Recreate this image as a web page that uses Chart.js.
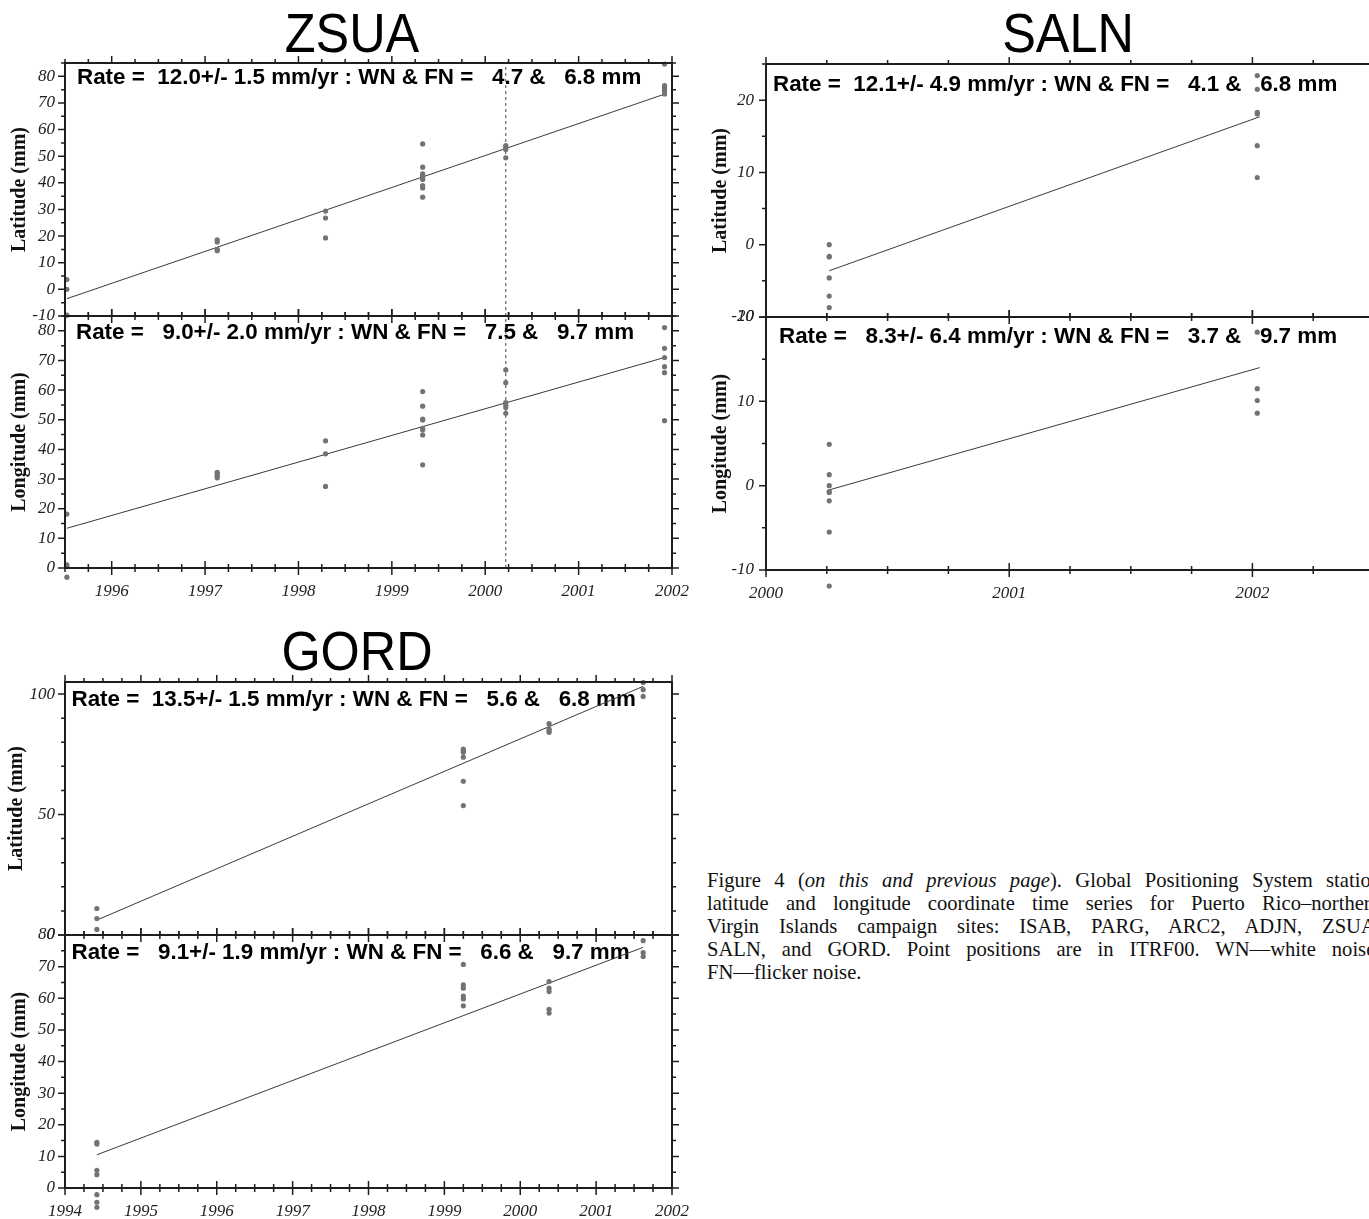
<!DOCTYPE html>
<html>
<head>
<meta charset="utf-8">
<script src="https://cdn.jsdelivr.net/npm/chart.js@4.4.1/dist/chart.umd.min.js"></script>
<style>
  html, body { margin: 0; padding: 0; background: #fff; width: 1369px; height: 1219px; overflow: hidden; }
  canvas { position: absolute; }
  .ttl { position: absolute; font-family: "Liberation Sans", Arial, sans-serif; font-size: 56px; line-height: 56px;
         color: #000; white-space: nowrap; transform: translateX(-50%) scaleX(0.9); }
  .cap { position: absolute; left: 707px; top: 869px; width: 674px; color: #111;
         font-family: "Liberation Serif", "Times New Roman", serif; font-size: 20.6px; line-height: 23px; }
  .cap div { white-space: nowrap; text-align: justify; text-align-last: justify; }
  .cap div.last { text-align-last: left; }
</style>
</head>
<body>
<div class="ttl" style="left:352px;top:5px">ZSUA</div>
<div class="ttl" style="left:1068px;top:5px">SALN</div>
<div class="ttl" style="left:357px;top:623px">GORD</div>
<div class="cap">
  <div>Figure 4 (<i>on this and previous page</i>). Global Positioning System station</div>
  <div>latitude and longitude coordinate time series for Puerto Rico–northern</div>
  <div>Virgin Islands campaign sites: ISAB, PARG, ARC2, ADJN, ZSUA,</div>
  <div>SALN, and GORD. Point positions are in ITRF00. WN—white noise;</div>
  <div class="last">FN—flicker noise.</div>
</div>
<script>
// ZSUA
const zsuaEpochs = [1995.52, 1997.13, 1998.29, 1999.33, 2000.22, 2001.92];
const zsuaLat = [[3.7, 0.0, -9.7], [18.6, 17.8, 15.0, 14.5], [29.4, 26.8, 19.3],
  [54.6, 45.9, 43.4, 42.8, 42.1, 41.3, 39.0, 38.1, 34.6], [54.0, 53.4, 52.5, 49.4], [84.6, 76.5, 75.6, 74.6, 73.4]];
const zsuaLon = [[18.2, 1.1, 0.5, -3.1], [32.3, 31.7, 31.0, 30.4], [42.9, 38.5, 27.5],
  [59.5, 54.6, 50.2, 49.9, 47.1, 46.6, 44.9, 34.8], [66.8, 62.5, 55.8, 55.0, 54.1, 52.2], [81.1, 74.1, 71.0, 67.9, 65.9, 49.7]];
const zsuaFitSpan = [1995.52, 2001.92];
const zsuaLatFit = [-3.5, 73.3];
const zsuaLonFit = [13.4, 71.0];
const zsuaMark = 2000.22;
const zsuaYears = [1996, 1997, 1998, 1999, 2000, 2001, 2002];
const zsuaLatTicks = [-10, 0, 10, 20, 30, 40, 50, 60, 70, 80];
const zsuaLonTicks = [0, 10, 20, 30, 40, 50, 60, 70, 80];

// SALN
const salnEpochs = [2000.26, 2002.02];
const salnLat = [[0.0, -1.6, -1.7, -4.6, -7.1, -8.7], [23.4, 21.5, 18.3, 18.1, 13.7, 9.3]];
const salnLon = [[4.9, 1.3, 0.0, -0.7, -0.8, -1.8, -5.5, -11.9], [18.2, 11.5, 10.1, 8.6]];
const salnFitSpan = [2000.26, 2002.03];
const salnLatFit = [-3.6, 17.7];
const salnLonFit = [-0.5, 14.0];
const salnYears = [2000, 2001, 2002];
const salnLatTicks = [-10, 0, 10, 20];
const salnLonTicks = [-10, 0, 10, 20];

// GORD
const gordEpochs = [1994.42, 1999.25, 2000.38, 2001.62];
const gordLat = [[11.0, 6.8, 2.3], [77.2, 76.5, 75.8, 73.8, 63.8, 53.7], [87.7, 85.5, 84.8, 84.1], [104.8, 101.8, 99.0]];
const gordLon = [[14.4, 13.9, 5.6, 4.2, -2.1, -4.5, -6.1], [70.7, 64.2, 63.2, 60.7, 59.8, 57.6],
  [65.3, 63.2, 62.1, 56.5, 55.3], [78.2, 74.4, 73.2]];
const gordFitSpan = [1994.42, 2001.62];
const gordLatFit = [6.2, 103.2];
const gordLonFit = [10.5, 76.1];
const gordYears = [1994, 1995, 1996, 1997, 1998, 1999, 2000, 2001, 2002];
const gordLatTicks = [0, 50, 100];
const gordLonTicks = [0, 10, 20, 30, 40, 50, 60, 70, 80];

const AX_W = 65, PAD_T = 30, PAD_R = 40, PAD_B = 30, X_H = 45;
const serif = '"Liberation Serif", "Times New Roman", serif';

function toPoints(epochs, groups) {
  const out = [];
  groups.forEach((g, i) => g.forEach(v => out.push({ x: epochs[i], y: v })));
  return out;
}

function steps(min, max, step) {
  const out = [];
  for (let v = Math.ceil(min / step - 1e-9) * step; v <= max + 1e-9; v += step) out.push(+v.toFixed(6));
  return out;
}

// frame, GMT-like ticks and the rate line; points may sit outside the box, so the
// area is widened while the datasets draw
const framePlugin = {
  id: 'frame',
  beforeDatasetsDraw(chart, args, o) {
    const { ctx, chartArea: a } = chart;
    ctx.save();
    ctx.font = 'bold 22.4px "Liberation Sans", Arial, sans-serif';
    ctx.fillStyle = '#000';
    ctx.textBaseline = 'alphabetic';
    ctx.fillText(o.rate, a.left + o.dx, a.top + o.dy);
    ctx.restore();
    chart.$realArea = a;
    chart.chartArea = { left: a.left, right: a.right, top: a.top - 40, bottom: a.bottom + 40,
                        width: a.width, height: a.height + 80 };
  },
  afterDatasetsDraw(chart) {
    if (chart.$realArea) chart.chartArea = chart.$realArea;
  },
  afterDraw(chart, args, o) {
    const { ctx, chartArea: a, scales: { x, y } } = chart;
    const isMajor = (v, list) => list.some(t => Math.abs(t - v) < 1e-6);
    ctx.save();
    ctx.strokeStyle = '#1e1e1e';
    ctx.lineWidth = 2;
    ctx.strokeRect(a.left, a.top, a.right - a.left, a.bottom - a.top);
    ctx.lineWidth = 1.5;
    ctx.beginPath();
    steps(x.min, x.max, o.xMinor).forEach(v => {
      const px = x.getPixelForValue(v);
      const len = isMajor(v, o.xMajor) ? 7 : 4;
      ctx.moveTo(px, a.top); ctx.lineTo(px, a.top - len);
      ctx.moveTo(px, a.bottom - len); ctx.lineTo(px, a.bottom + len);
    });
    steps(y.min, y.max, o.yMinor).forEach(v => {
      const py = y.getPixelForValue(v);
      const len = isMajor(v, o.yMajor) ? 7 : 4;
      ctx.moveTo(a.left, py); ctx.lineTo(a.left - len, py);
      ctx.moveTo(a.right, py); ctx.lineTo(a.right + len, py);
    });
    ctx.stroke();
    ctx.restore();
  }
};

function makePanel(p) {
  const c = document.createElement('canvas');
  const w = AX_W + p.w + PAD_R;
  const h = PAD_T + p.h + (p.showX ? X_H : PAD_B);
  c.width = w; c.height = h;
  c.style.width = w + 'px'; c.style.height = h + 'px';
  c.style.left = (p.left - AX_W) + 'px';
  c.style.top = (p.top - PAD_T) + 'px';
  document.body.appendChild(c);

  const datasets = [
    { data: toPoints(p.epochs, p.values), pointRadius: 2.6, pointBackgroundColor: '#6f7575',
      pointBorderWidth: 0, showLine: false, clip: false },
    { type: 'line', data: [{ x: p.span[0], y: p.fit[0] }, { x: p.span[1], y: p.fit[1] }],
      borderColor: '#3a3a3a', borderWidth: 1, pointRadius: 0, fill: false }
  ];
  if (p.mark) {
    datasets.push({ type: 'line', data: [{ x: p.mark, y: p.yMin }, { x: p.mark, y: p.yMax }],
      borderColor: '#444', borderWidth: 1, borderDash: [3, 3], pointRadius: 0, fill: false });
  }

  new Chart(c, {
    type: 'scatter',
    data: { datasets },
    options: {
      responsive: false,
      animation: false,
      events: [],
      layout: { padding: { top: PAD_T, right: PAD_R, bottom: p.showX ? 0 : PAD_B, left: 0 } },
      plugins: {
        legend: { display: false },
        tooltip: { enabled: false },
        frame: { rate: p.rate, dx: p.dx, dy: p.dy, xMajor: p.years, xMinor: 0.25, yMajor: p.yTicks, yMinor: p.yMinor }
      },
      scales: {
        x: {
          type: 'linear', min: p.xMin, max: p.xMax, display: p.showX,
          afterBuildTicks: s => { s.ticks = p.years.map(v => ({ value: v })); },
          afterFit: s => { if (p.showX) s.height = X_H; },
          grid: { display: false, drawTicks: false }, border: { display: false },
          ticks: { font: { family: serif, style: 'italic', size: 17 }, color: '#222', padding: 13,
                   maxRotation: 0, autoSkip: false, callback: v => String(v) }
        },
        y: {
          type: 'linear', min: p.yMin, max: p.yMax,
          afterBuildTicks: s => { s.ticks = p.yTicks.map(v => ({ value: v })); },
          afterFit: s => { s.width = AX_W; },
          grid: { display: false, drawTicks: false }, border: { display: false },
          title: { display: true, text: p.yTitle, color: '#111',
                   font: { family: serif, weight: 'bold', size: 20 }, padding: { top: p.titlePad, bottom: 0 } },
          ticks: { font: { family: serif, style: 'italic', size: 17 }, color: '#222', padding: p.tickPad,
                   autoSkip: false, callback: v => String(v) }
        }
      }
    },
    plugins: [framePlugin]
  });
}

makePanel({ left: 65, top: 63, w: 607, h: 253, xMin: 1995.5, xMax: 2002, yMin: -10, yMax: 85, yMinor: 5,
  years: zsuaYears, yTicks: zsuaLatTicks, showX: false, yTitle: 'Latitude (mm)', titlePad: 8, tickPad: 10,
  epochs: zsuaEpochs, values: zsuaLat, span: zsuaFitSpan, fit: zsuaLatFit, mark: zsuaMark,
  rate: 'Rate =  12.0+/- 1.5 mm/yr : WN & FN =   4.7 &   6.8 mm', dx: 12, dy: 20.5 });
makePanel({ left: 65, top: 316, w: 607, h: 252, xMin: 1995.5, xMax: 2002, yMin: 0, yMax: 85, yMinor: 5,
  years: zsuaYears, yTicks: zsuaLonTicks, showX: true, yTitle: 'Longitude (mm)', titlePad: 8, tickPad: 10,
  epochs: zsuaEpochs, values: zsuaLon, span: zsuaFitSpan, fit: zsuaLonFit, mark: zsuaMark,
  rate: 'Rate =   9.0+/- 2.0 mm/yr : WN & FN =   7.5 &   9.7 mm', dx: 11, dy: 22.5 });

makePanel({ left: 766, top: 64, w: 608, h: 253, xMin: 2000, xMax: 2002.5, yMin: -10, yMax: 25, yMinor: 5,
  years: salnYears, yTicks: salnLatTicks, showX: false, yTitle: 'Latitude (mm)', titlePad: 8, tickPad: 12,
  epochs: salnEpochs, values: salnLat, span: salnFitSpan, fit: salnLatFit,
  rate: 'Rate =  12.1+/- 4.9 mm/yr : WN & FN =   4.1 &   6.8 mm', dx: 7, dy: 26.5 });
makePanel({ left: 766, top: 317, w: 608, h: 253, xMin: 2000, xMax: 2002.5, yMin: -10, yMax: 20, yMinor: 5,
  years: salnYears, yTicks: salnLonTicks, showX: true, yTitle: 'Longitude (mm)', titlePad: 8, tickPad: 12,
  epochs: salnEpochs, values: salnLon, span: salnFitSpan, fit: salnLonFit,
  rate: 'Rate =   8.3+/- 6.4 mm/yr : WN & FN =   3.7 &   9.7 mm', dx: 13, dy: 25.5 });

makePanel({ left: 65, top: 682, w: 607, h: 253, xMin: 1994, xMax: 2002, yMin: 0, yMax: 105, yMinor: 10,
  years: gordYears, yTicks: gordLatTicks, showX: false, yTitle: 'Latitude (mm)', titlePad: 5, tickPad: 10,
  epochs: gordEpochs, values: gordLat, span: gordFitSpan, fit: gordLatFit,
  rate: 'Rate =  13.5+/- 1.5 mm/yr : WN & FN =   5.6 &   6.8 mm', dx: 6.5, dy: 24 });
makePanel({ left: 65, top: 935, w: 607, h: 253, xMin: 1994, xMax: 2002, yMin: 0, yMax: 80, yMinor: 5,
  years: gordYears, yTicks: gordLonTicks, showX: true, yTitle: 'Longitude (mm)', titlePad: 8, tickPad: 10,
  epochs: gordEpochs, values: gordLon, span: gordFitSpan, fit: gordLonFit,
  rate: 'Rate =   9.1+/- 1.9 mm/yr : WN & FN =   6.6 &   9.7 mm', dx: 6.5, dy: 24 });
</script>
</body>
</html>
